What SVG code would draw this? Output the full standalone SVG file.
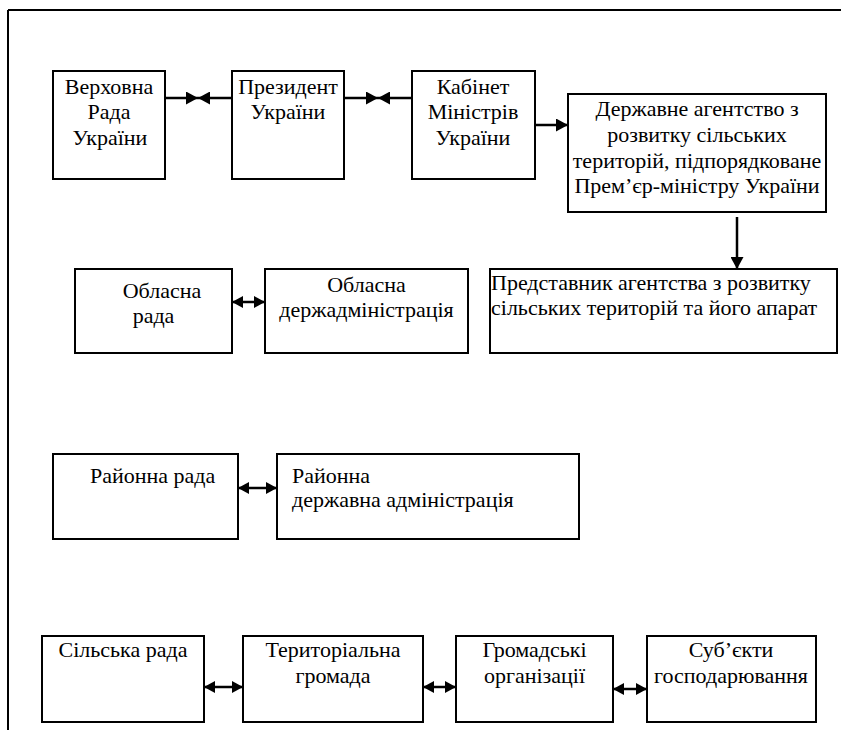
<svg xmlns="http://www.w3.org/2000/svg" width="841" height="730" viewBox="0 0 841 730">
<style>
  .box { fill: #fff; stroke: #000; stroke-width: 2; }
  .t { font-family: "Liberation Serif", "Times New Roman", "DejaVu Serif", serif; font-size: 22px; fill: #000; }
  .c { text-anchor: middle; }
  .s { text-anchor: start; }
  .ln { fill: none; stroke: #000; stroke-width: 2.5; }
  .frame { fill: none; stroke: #000; stroke-width: 2; }
</style>
<defs>
  <marker id="ah" viewBox="0 0 12 13" refX="12" refY="6.5" markerWidth="12" markerHeight="13" markerUnits="userSpaceOnUse" orient="auto-start-reverse">
    <path d="M0,0 L12,6.5 L0,13 z" fill="#000"/>
  </marker>
  <marker id="dh" viewBox="0 0 11 12" refX="11" refY="6" markerWidth="11" markerHeight="12" markerUnits="userSpaceOnUse" orient="auto-start-reverse">
    <path d="M0,0 L11,6 L0,12 z" fill="#000"/>
  </marker>
</defs>
<rect x="0" y="0" width="841" height="730" fill="#fff"/>
<path class="frame" d="M8,10 H841 M8,10 V730"/>

<g id="connectors">
  <path class="ln" d="M165,98 H198" marker-end="url(#ah)"/>
  <path class="ln" d="M232,98 H198" marker-end="url(#ah)"/>
  <path class="ln" d="M344,98 H378" marker-end="url(#ah)"/>
  <path class="ln" d="M412,98 H378" marker-end="url(#ah)"/>
  <path class="ln" d="M535,125 H568" marker-end="url(#ah)"/>
  <path class="ln" d="M737,217 V269" marker-end="url(#ah)"/>
  <path class="ln" d="M232,302 H265" marker-start="url(#dh)" marker-end="url(#dh)"/>
  <path class="ln" d="M238,488 H277" marker-start="url(#dh)" marker-end="url(#dh)"/>
  <path class="ln" d="M204,687 H243" marker-start="url(#dh)" marker-end="url(#dh)"/>
  <path class="ln" d="M423,687 H456" marker-start="url(#dh)" marker-end="url(#dh)"/>
  <path class="ln" d="M613,689 H647" marker-start="url(#dh)" marker-end="url(#dh)"/>
</g>

<g id="verkhovna-rada">
  <rect class="box" x="53" y="71" width="112" height="108"/>
  <text class="t c" x="109" y="94">Верховна</text>
  <text class="t c" x="109" y="119">Рада</text>
  <text class="t c" x="110" y="145">України</text>
</g>
<g id="president">
  <rect class="box" x="232" y="71" width="112" height="108"/>
  <text class="t c" x="288" y="94">Президент</text>
  <text class="t c" x="288" y="119">України</text>
</g>
<g id="kabmin">
  <rect class="box" x="412" y="71" width="123" height="108"/>
  <text class="t c" x="473" y="94">Кабінет</text>
  <text class="t c" x="473" y="119">Міністрів</text>
  <text class="t c" x="473" y="145">України</text>
</g>
<g id="agency">
  <rect class="box" x="568" y="94" width="258" height="118"/>
  <text class="t c" x="697" y="116">Державне агентство з</text>
  <text class="t c" x="697" y="142">розвитку сільських</text>
  <text class="t c" x="697" y="168">територій, підпорядковане</text>
  <text class="t c" x="697" y="193">Прем’єр-міністру України</text>
</g>
<g id="agency-rep">
  <rect class="box" x="490" y="269" width="347" height="84"/>
  <text class="t s" x="491" y="290">Представник агентства з розвитку</text>
  <text class="t s" x="491" y="315">сільських територій та його апарат</text>
</g>
<g id="oblast-rada">
  <rect class="box" x="75" y="269" width="157" height="84"/>
  <text class="t c" x="162" y="298">Обласна</text>
  <text class="t c" x="153.5" y="323">рада</text>
</g>
<g id="oblast-admin">
  <rect class="box" x="265" y="269" width="203" height="84"/>
  <text class="t c" x="366.5" y="292">Обласна</text>
  <text class="t c" x="366.5" y="317">держадміністрація</text>
</g>
<g id="raion-rada">
  <rect class="box" x="53" y="454" width="185" height="85"/>
  <text class="t s" x="90" y="483">Районна рада</text>
</g>
<g id="raion-admin">
  <rect class="box" x="277" y="454" width="302" height="85"/>
  <text class="t s" x="292" y="483">Районна</text>
  <text class="t s" x="292" y="507">державна адміністрація</text>
</g>
<g id="silska-rada">
  <rect class="box" x="42" y="636" width="162" height="86"/>
  <text class="t c" x="123" y="657">Сільська рада</text>
</g>
<g id="terytorialna-hromada">
  <rect class="box" x="243" y="636" width="180" height="86"/>
  <text class="t c" x="333" y="657">Територіальна</text>
  <text class="t c" x="333" y="683">громада</text>
</g>
<g id="hromadski-orhanizatsii">
  <rect class="box" x="456" y="636" width="157" height="86"/>
  <text class="t c" x="534.5" y="657">Громадські</text>
  <text class="t c" x="534.5" y="683">організації</text>
</g>
<g id="subiekty">
  <rect class="box" x="647" y="636" width="169" height="86"/>
  <text class="t c" x="731" y="657">Суб’єкти</text>
  <text class="t c" x="731" y="683">господарювання</text>
</g>
</svg>
